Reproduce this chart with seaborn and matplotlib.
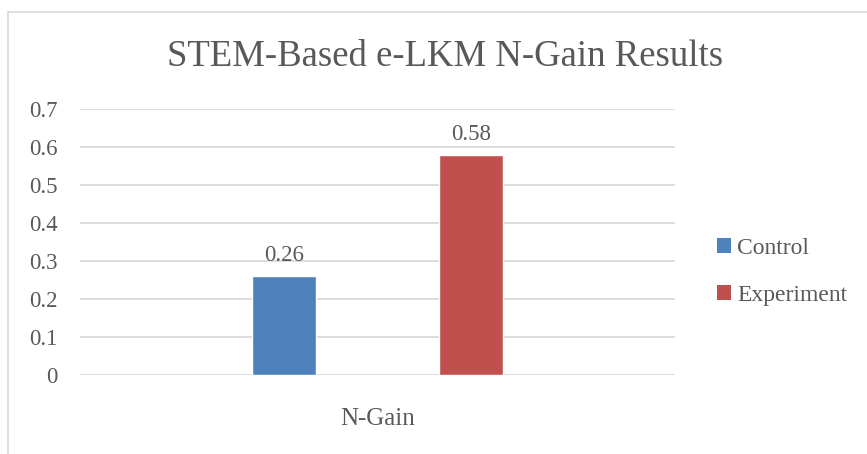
import pandas as pd
import matplotlib.pyplot as plt
import seaborn as sns
from matplotlib.lines import Line2D
from matplotlib.patches import Patch

# Data
categories = ["N-Gain"]
groups = ["Control", "Experiment"]
values = [0.26, 0.58]
colors = ["#4F81BD", "#C0504D"]

df = pd.DataFrame({"metric": categories * len(groups), "group": groups, "value": values})

sns.set_style("white")
plt.rcParams['font.family'] = ['Liberation Serif', 'DejaVu Serif']
text_color = "#595959"
grid_color = "#D9D9D9"

fig = plt.figure(figsize=(8.67, 4.54), dpi=100)
ax = fig.add_axes([80 / 867, 1 - 375 / 454, 595 / 867, 266 / 454])

sns.barplot(data=df, x="metric", y="value", hue="group", palette=colors,
            width=0.6275, gap=0.658, saturation=1, ax=ax, legend=False)

ax.set_ylim(0, 0.7)
ax.set_xlim(-0.5, 0.5)
ax.set_yticks([0, 0.1, 0.2, 0.3, 0.4, 0.5, 0.6, 0.7])
ax.set_yticklabels(["0", "0.1", "0.2", "0.3", "0.4", "0.5", "0.6", "0.7"])
ax.yaxis.grid(True, color=grid_color, linewidth=1.3)
ax.set_axisbelow(True)
for s in ax.spines.values():
    s.set_visible(False)
ax.tick_params(axis="y", length=0, pad=16, labelsize=16.5, labelcolor=text_color)
ax.tick_params(axis="x", length=0, pad=24, labelsize=18, labelcolor=text_color)
ax.set_xlabel("")
ax.set_ylabel("")

for cont in ax.containers:
    ax.bar_label(cont, fmt="%.2f", padding=7, fontsize=16.5, color=text_color)

fig.suptitle("STEM-Based e-LKM N-Gain Results", x=445 / 867, y=1 - 57 / 454,
             va="center", fontsize=26.5, color=text_color)

handles = [Patch(facecolor=c, edgecolor="none") for c in colors]
fig.legend(handles, groups, loc="center left", bbox_to_anchor=(696 / 867, 1 - 272 / 454),
           frameon=False, fontsize=17, labelcolor=text_color, handlelength=0.6,
           handleheight=0.6, handletextpad=0.25, labelspacing=1.1)

# chart border (left and top)
fig.add_artist(Line2D([8 / 867, 8 / 867], [0, 1 - 12 / 454], color=grid_color, lw=1.2))
fig.add_artist(Line2D([8 / 867, 1], [1 - 12 / 454, 1 - 12 / 454], color=grid_color, lw=1.2))

fig.savefig("out.png", dpi=100, facecolor="white")
